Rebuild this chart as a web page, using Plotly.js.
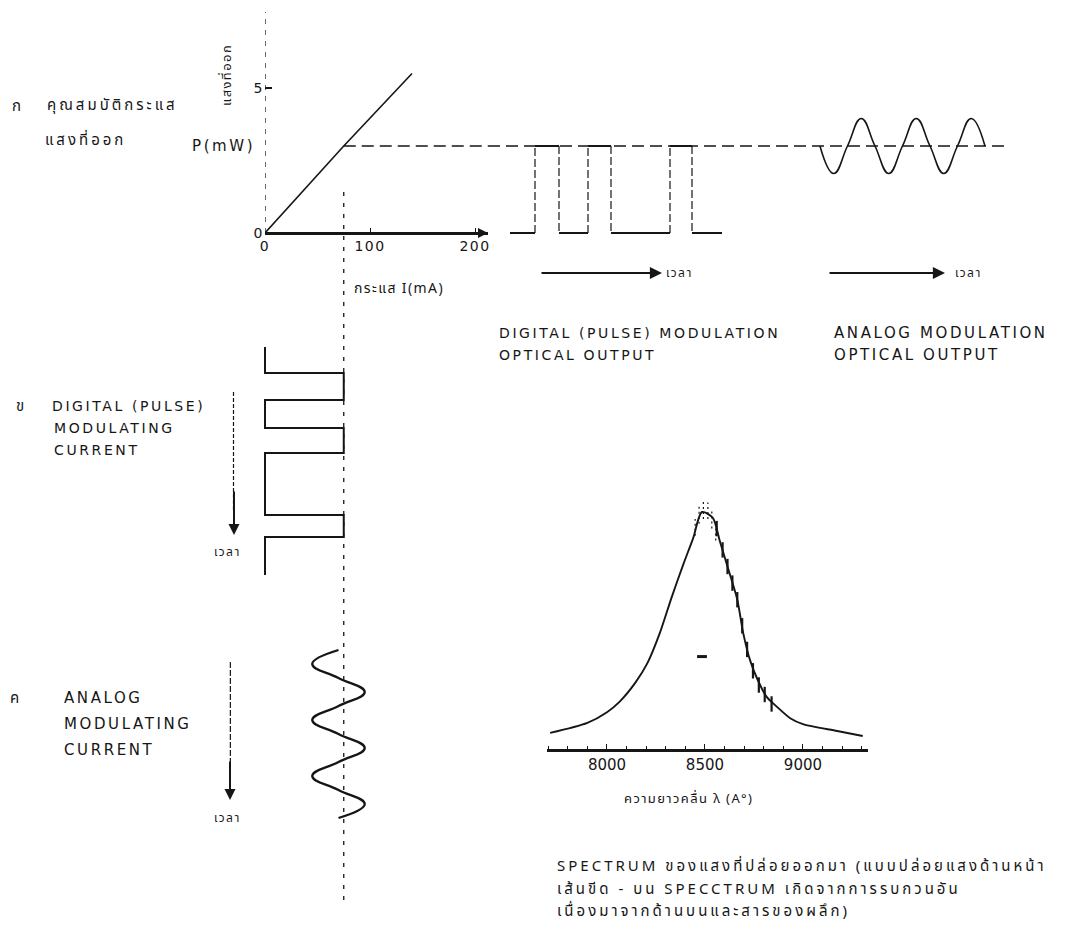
<!DOCTYPE html>
<html><head><meta charset="utf-8">
<script src="https://cdn.plot.ly/plotly-3.0.1.min.js"></script>
<style>
html,body{margin:0;padding:0;background:#fff}
#chart{width:1070px;height:926px}
text.annotation-text{letter-spacing:2.6px}
text.annotation-text[style*="Thai"]{letter-spacing:1.4px}
text.annotation-text[style*="Thai"][style*="font-size: 15px"]{letter-spacing:3px}
g.xtick text, g.ytick text{letter-spacing:1.5px}
</style>
</head><body><div id="chart"></div>
<script>
const W = 1070, H = 926;

// ก : light output vs current characteristic
const liCurrent = [0, 75, 140];          // mA
const liPower   = [0, 3, 5.5];           // mW
const thresholdCurrent = 75;             // mA
const biasPower = 3;                     // mW
const liTickVals = [0, 100, 200];
const liTickText = ['0', '100', '200'];
const pTickVals = [0, 5];

// digital (pulse) optical output, time in arbitrary units
const digOutTime  = [2.2, 4.7, 4.7, 7.1, 7.1, 10.0, 10.0, 12.3, 12.3, 18.2, 18.2, 20.4, 20.4, 23.4];
const digOutPower = [0, 0, 3, 3, 0, 0, 3, 3, 0, 0, 3, 3, 0, 0];

// analog optical output (time in quarter periods)
const anaOutTime  = [0,1,2,3,4,5,6,7,8,9,10,11,12];
const anaOutPower = [3,2.05,3,3.95,3,2.05,3,3.95,3,2.05,3,3.95,3];

// ข : digital modulating current (time runs downward)
const digInTime    = [0, 2.6, 2.6, 5.3, 5.3, 8.1, 8.1, 10.6, 10.6, 16.8, 16.8, 19.0, 19.0, 22.8];
const digInCurrent = [0, 0, 75, 75, 0, 0, 75, 75, 0, 0, 75, 75, 0, 0];

// ค : analog modulating current
const anaInTime    = [0,1,2,3,4,5,6,7,8,9,10,11,12];
const anaInCurrent = [70,45,70,95,70,45,70,95,70,45,70,95,70];

// emitted spectrum
const specWl  = [7710,7900,8000,8065,8145,8205,8270,8330,8390,8440,8485,8540,8575,8615,8665,8695,8730,8770,8815,8865,8935,9000,9175,9305];
const specInt = [0.068,0.11,0.155,0.20,0.28,0.36,0.49,0.64,0.78,0.89,1.0,0.975,0.88,0.77,0.63,0.49,0.375,0.29,0.22,0.18,0.13,0.105,0.076,0.055];
// short vertical ripples on the falling flank
const rippleWl  = [8560,8590,8615,8640,8665,8690,8715,8745,8775,8805,8840];
const rippleInt = [0.93,0.84,0.77,0.70,0.63,0.52,0.42,0.33,0.27,0.23,0.19];
// mode spikes at the top
const modeWl   = [8450, 8470, 8492, 8515, 8535, 8555];
const modeLow  = [0.90, 0.95, 0.97, 0.97, 0.93, 0.88];
const modeHigh = [0.97, 1.03, 1.05, 1.04, 1.01, 0.95];
const noiseMarkWl = [8485], noiseMarkInt = [0.39];
const specTickVals = [8000, 8500, 9000];

// ---------- helpers (pixel -> paper) ----------
const px = v => v / W;
const py = v => 1 - v / H;
const dx = (a, b) => [px(a), px(b)];
const dy = (top, bottom) => [py(bottom), py(top)];

const INK = '#161616';
const FONT = 'DejaVu Sans, Noto Sans, sans-serif';
const TH = 'Noto Sans Thai, Noto Sans, DejaVu Sans, sans-serif';

const mA2px = 1.05, mW2px = 29;
const xMax = (488 - 265) / mA2px;
const xLowMin = (200 - 265) / mA2px;

const modeX = [], modeY = [];
modeWl.forEach((w, i) => { modeX.push(w, w, null); modeY.push(modeLow[i], modeHigh[i], null); });

// split the pulse train into level segments and edge segments
const levX = [], levY = [], edgeX = [], edgeY = [];
for (let i = 0; i < digOutTime.length - 1; i++) {
  const tx = digOutTime[i] === digOutTime[i + 1] ? [edgeX, edgeY] : [levX, levY];
  tx[0].push(digOutTime[i], digOutTime[i + 1], null);
  tx[1].push(digOutPower[i], digOutPower[i + 1], null);
}

const traces = [
  {x: liCurrent, y: liPower, xaxis: 'x', yaxis: 'y', mode: 'lines', line: {color: INK, width: 1.6}},
  {x: [thresholdCurrent, xMax], y: [biasPower, biasPower], xaxis: 'x', yaxis: 'y', mode: 'lines', line: {color: INK, width: 1.7, dash: '12px,6px'}},
  {x: [0, 32.4], y: [biasPower, biasPower], xaxis: 'x2', yaxis: 'y', mode: 'lines', line: {color: INK, width: 1.7, dash: '12px,6px'}},
  {x: levX, y: levY, xaxis: 'x2', yaxis: 'y', mode: 'lines', line: {color: INK, width: 2}},
  {x: edgeX, y: edgeY, xaxis: 'x2', yaxis: 'y', mode: 'lines', line: {color: INK, width: 1.2, dash: '8px,3px'}},
  {x: [-0.58, 13.45], y: [biasPower, biasPower], xaxis: 'x3', yaxis: 'y', mode: 'lines', line: {color: INK, width: 1.7, dash: '12px,6px'}},
  {x: anaOutTime, y: anaOutPower, xaxis: 'x3', yaxis: 'y', mode: 'lines', line: {color: INK, width: 1.6, shape: 'spline', smoothing: 1.3}},
  {x: digInCurrent, y: digInTime, xaxis: 'x4', yaxis: 'y3', mode: 'lines', line: {color: INK, width: 2}},
  {x: anaInCurrent, y: anaInTime, xaxis: 'x4', yaxis: 'y4', mode: 'lines', line: {color: INK, width: 2.3, shape: 'spline', smoothing: 1.3}},
  {x: specWl, y: specInt, xaxis: 'x5', yaxis: 'y5', mode: 'lines', line: {color: INK, width: 1.9, shape: 'spline', smoothing: 0.8}},
  {x: rippleWl, y: rippleInt, xaxis: 'x5', yaxis: 'y5', mode: 'markers', marker: {symbol: 'line-ns', size: 11, line: {color: INK, width: 2.2}}},
  {x: modeX, y: modeY, xaxis: 'x5', yaxis: 'y5', mode: 'lines', line: {color: INK, width: 1.2, dash: '2px,3px'}},
  {x: noiseMarkWl, y: noiseMarkInt, xaxis: 'x5', yaxis: 'y5', mode: 'markers', marker: {symbol: 'line-ew', size: 7, line: {color: INK, width: 3}}}
];

const hidden = {visible: false, fixedrange: true};
const layout = {
  width: W, height: H,
  margin: {l: 0, r: 0, t: 0, b: 0},
  paper_bgcolor: '#fff', plot_bgcolor: 'rgba(0,0,0,0)',
  showlegend: false,
  font: {family: FONT, color: INK, size: 14},
  xaxis: {domain: dx(265, 488), range: [0, xMax], anchor: 'free', position: py(233),
          showline: true, linewidth: 2.5, linecolor: INK, showgrid: false, zeroline: false,
          tickvals: liTickVals, ticktext: liTickText, ticks: 'inside', ticklen: 4, tickcolor: INK,
          tickfont: {size: 14, family: FONT}, fixedrange: true},
  yaxis: {domain: dy(15, 245), range: [-12 / mW2px, (233 - 15) / mW2px], anchor: 'x',
          showline: false, showgrid: false, zeroline: false,
          tickvals: pTickVals, ticks: 'inside', ticklen: 7, tickcolor: INK, tickwidth: 1.5,
          tickfont: {size: 14, family: FONT}, fixedrange: true},
  xaxis2: Object.assign({domain: dx(488, 812), range: [0, 32.4], anchor: 'y'}, hidden),
  xaxis3: Object.assign({domain: dx(812, 1010), range: [-0.58, 13.82], anchor: 'y'}, hidden),
  xaxis4: Object.assign({domain: dx(200, 488), range: [xLowMin, xMax], anchor: 'y3'}, hidden),
  yaxis3: Object.assign({domain: dy(340, 580), range: [23.3, -0.7], anchor: 'x4'}, hidden),
  yaxis4: Object.assign({domain: dy(636, 830), range: [12.857, -1.0], anchor: 'x4'}, hidden),
  xaxis5: {domain: dx(547, 868), range: [7694, 9332], anchor: 'y5',
           showline: true, linewidth: 2.5, linecolor: INK, showgrid: false, zeroline: false,
           tickvals: specTickVals, ticks: 'inside', ticklen: 5, tickcolor: INK,
           minor: {dtick: 100, ticks: 'inside', ticklen: 3, tickcolor: INK, showgrid: false},
           tickfont: {size: 15, family: FONT}, fixedrange: true},
  yaxis5: Object.assign({domain: dy(490, 749), range: [0, (749 - 490) / 237], anchor: 'x5'}, hidden),
  shapes: [
    {type: 'line', xref: 'x4', yref: 'paper', x0: thresholdCurrent, x1: thresholdCurrent, y0: py(900), y1: py(185),
     line: {color: INK, width: 1.3, dash: '4px,7px'}},
    {type: 'line', xref: 'x', yref: 'paper', x0: 0, x1: 0, y0: py(233), y1: py(12),
     line: {color: INK, width: 1.3, dash: '5px,6px'}},
    {type: 'line', xref: 'x4', yref: 'paper', x0: -30, x1: -30, y0: py(510), y1: py(390),
     line: {color: INK, width: 1.2, dash: '4px,2px'}},
    {type: 'line', xref: 'x4', yref: 'paper', x0: -33, x1: -33, y0: py(780), y1: py(660),
     line: {color: INK, width: 1.2, dash: '6px,2px'}}
  ],
  annotations: []
};

function txt(t, x, y, opt) {
  layout.annotations.push(Object.assign({text: t, xref: 'paper', yref: 'paper', x: px(x), y: py(y),
    xanchor: 'left', yanchor: 'middle', showarrow: false, font: {family: FONT, size: 14, color: INK}}, opt || {}));
}
function arrowR(x0, x1, y) {
  layout.annotations.push({text: '', xref: 'paper', yref: 'paper', x: px(x1), y: py(y), ax: x0 - x1, ay: 0,
    axref: 'pixel', ayref: 'pixel', showarrow: true, arrowhead: 2, arrowsize: 1.1, arrowwidth: 2.2, arrowcolor: INK});
}
function arrowD(x, y0, y1) {
  layout.annotations.push({text: '', xref: 'paper', yref: 'paper', x: px(x), y: py(y1), ax: 0, ay: y0 - y1,
    axref: 'pixel', ayref: 'pixel', showarrow: true, arrowhead: 2, arrowsize: 1.1, arrowwidth: 2, arrowcolor: INK});
}
const thaiFont = s => ({family: TH, size: s || 14, color: INK});
const latin = s => ({family: FONT, size: s || 14, color: INK});

// ก block
txt('ก', 10, 107, {font: thaiFont(15)});
txt('คุณสมบัติกระแส', 45, 105, {font: thaiFont(15)});
txt('แสงที่ออก', 43, 140, {font: thaiFont(15)});
txt('แสงที่ออก', 227, 75, {xanchor: 'center', textangle: -90, font: thaiFont(13)});
txt('P(mW)', 190, 146, {font: latin(15)});
txt('กระแส I(mA)', 352, 288, {font: thaiFont(14)});
// x-axis arrowhead
layout.annotations.push({text: '', xref: 'x', yref: 'y', x: xMax, y: 0, ax: -16, ay: 0, axref: 'pixel', ayref: 'pixel',
  showarrow: true, arrowhead: 2, arrowsize: 1, arrowwidth: 2, arrowcolor: INK});

// output labels
arrowR(540, 662, 273); txt('เวลา', 664, 273, {font: thaiFont(12)});
arrowR(828, 945, 273); txt('เวลา', 953, 273, {font: thaiFont(12)});
txt('DIGITAL (PULSE) MODULATION', 497, 333);
txt('OPTICAL OUTPUT', 497, 355);
txt('ANALOG MODULATION', 832, 333, {font: latin(15)});
txt('OPTICAL OUTPUT', 832, 355, {font: latin(15)});

// ข block
txt('ข', 14, 406, {font: thaiFont(15)});
txt('DIGITAL (PULSE)', 50, 406);
txt('MODULATING', 52, 428);
txt('CURRENT', 52, 450);
arrowD(234, 490, 535);
txt('เวลา', 212, 552, {font: thaiFont(12)});

// ค block
txt('ค', 8, 698, {font: thaiFont(15)});
txt('ANALOG', 62, 698, {font: latin(15)});
txt('MODULATING', 62, 724, {font: latin(15)});
txt('CURRENT', 62, 750, {font: latin(15)});
arrowD(230, 760, 800);
txt('เวลา', 212, 818, {font: thaiFont(12)});

// spectrum labels
txt('ความยาวคลื่น λ (A°)', 622, 799, {font: thaiFont(13)});
txt('SPECTRUM ของแสงที่ปล่อยออกมา (แบบปล่อยแสงด้านหน้า', 555, 866, {font: thaiFont(15)});
txt('เส้นขีด - บน SPECCTRUM เกิดจากการรบกวนอัน', 555, 889, {font: thaiFont(15)});
txt('เนื่องมาจากด้านบนและสารของผลึก)', 555, 911, {font: thaiFont(15)});

Plotly.newPlot('chart', traces, layout, {displayModeBar: false, staticPlot: true});
</script></body></html>
